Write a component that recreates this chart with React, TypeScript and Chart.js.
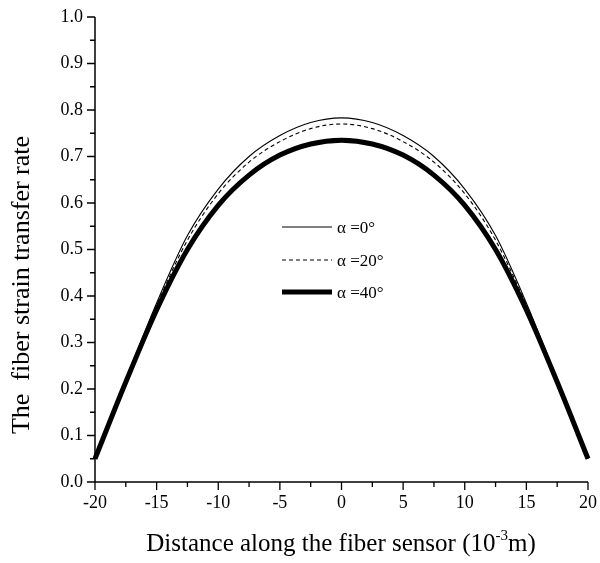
import React, { useEffect, useRef } from "react";
import { Chart, registerables } from "chart.js";

Chart.register(...registerables);

const xPositions = [-20, -17.5, -15, -12.5, -10, -7.5, -5, -2.5, 0, 2.5, 5, 7.5, 10, 12.5, 15, 17.5, 20];
const alpha0 = [0.05, 0.22, 0.385, 0.53, 0.63, 0.70, 0.745, 0.773, 0.783, 0.773, 0.745, 0.70, 0.63, 0.53, 0.385, 0.22, 0.05];
const alpha20 = [0.05, 0.218, 0.38, 0.52, 0.62, 0.688, 0.732, 0.760, 0.770, 0.760, 0.732, 0.688, 0.62, 0.52, 0.38, 0.218, 0.05];
const alpha40 = [0.05, 0.215, 0.37, 0.50, 0.595, 0.660, 0.703, 0.727, 0.735, 0.727, 0.703, 0.660, 0.595, 0.50, 0.37, 0.215, 0.05];
const seriesLabels = ["\u03b1 =0\u00b0", "\u03b1 =20\u00b0", "\u03b1 =40\u00b0"];

const xMajorTicks = [-20, -15, -10, -5, 0, 5, 10, 15, 20];
const xMinorTicks = [-17.5, -12.5, -7.5, -2.5, 2.5, 7.5, 12.5, 17.5];
const yMajorTicks = [0, 0.1, 0.2, 0.3, 0.4, 0.5, 0.6, 0.7, 0.8, 0.9, 1.0];
const yMinorTicks = [0.05, 0.15, 0.25, 0.35, 0.45, 0.55, 0.65, 0.75, 0.85, 0.95];

const yTitle = "The  fiber strain transfer rate";
const xTitleMain = "Distance along the fiber sensor (10";
const xTitleSup = "-3";
const xTitleEnd = "m)";

const FONT = "'Liberation Serif', 'Times New Roman', serif";

const toPoints = (ys: number[]) => xPositions.map((x, i) => ({ x, y: ys[i] }));

const axesPlugin = {
  id: "customAxes",
  afterDraw(chart: any) {
    const ctx = chart.ctx;
    const xs = chart.scales.x;
    const ys = chart.scales.y;
    const x0 = xs.getPixelForValue(-20);
    const x1 = xs.getPixelForValue(20);
    const y0 = ys.getPixelForValue(0);
    const y1 = ys.getPixelForValue(1);
    ctx.save();
    ctx.strokeStyle = "#000";
    ctx.fillStyle = "#000";
    ctx.lineWidth = 1.5;
    ctx.beginPath();
    ctx.moveTo(x0, y1);
    ctx.lineTo(x0, y0);
    ctx.lineTo(x1, y0);
    ctx.stroke();

    ctx.lineWidth = 1.3;
    ctx.beginPath();
    yMajorTicks.forEach((v) => {
      const p = ys.getPixelForValue(v);
      ctx.moveTo(x0, p);
      ctx.lineTo(x0 - 8, p);
    });
    yMinorTicks.forEach((v) => {
      const p = ys.getPixelForValue(v);
      ctx.moveTo(x0, p);
      ctx.lineTo(x0 - 5, p);
    });
    xMajorTicks.forEach((v) => {
      const p = xs.getPixelForValue(v);
      ctx.moveTo(p, y0);
      ctx.lineTo(p, y0 + 8);
    });
    xMinorTicks.forEach((v) => {
      const p = xs.getPixelForValue(v);
      ctx.moveTo(p, y0);
      ctx.lineTo(p, y0 + 5);
    });
    ctx.stroke();

    ctx.font = `18px ${FONT}`;
    ctx.textAlign = "right";
    ctx.textBaseline = "middle";
    yMajorTicks.forEach((v) => {
      ctx.fillText(v.toFixed(1), x0 - 12, ys.getPixelForValue(v));
    });
    ctx.textAlign = "center";
    ctx.textBaseline = "top";
    xMajorTicks.forEach((v) => {
      ctx.fillText(String(v), xs.getPixelForValue(v), y0 + 12);
    });

    // y title
    ctx.save();
    ctx.translate(22, 285);
    ctx.rotate(-Math.PI / 2);
    ctx.textAlign = "center";
    ctx.textBaseline = "middle";
    ctx.font = `26px ${FONT}`;
    ctx.fillText(yTitle, 0, 0);
    ctx.restore();

    // x title with superscript
    const tSize = 25;
    ctx.font = `${tSize}px ${FONT}`;
    const wMain = ctx.measureText(xTitleMain).width;
    const wEnd = ctx.measureText(xTitleEnd).width;
    ctx.font = `${Math.round(tSize * 0.6)}px ${FONT}`;
    const wSup = ctx.measureText(xTitleSup).width;
    const total = wMain + wSup + wEnd;
    let tx = 341 - total / 2;
    const baseY = 551;
    ctx.textAlign = "left";
    ctx.textBaseline = "alphabetic";
    ctx.font = `${tSize}px ${FONT}`;
    ctx.fillText(xTitleMain, tx, baseY);
    tx += wMain;
    ctx.font = `${Math.round(tSize * 0.6)}px ${FONT}`;
    ctx.fillText(xTitleSup, tx, baseY - 11);
    tx += wSup;
    ctx.font = `${tSize}px ${FONT}`;
    ctx.fillText(xTitleEnd, tx, baseY);

    // legend
    const legendRows = [227, 260, 292];
    chart.data.datasets.forEach((ds: any, i: number) => {
      const ly = legendRows[i];
      ctx.save();
      ctx.strokeStyle = "#000";
      ctx.lineWidth = ds.borderWidth;
      ctx.setLineDash(ds.borderDash || []);
      ctx.lineCap = "butt";
      ctx.beginPath();
      ctx.moveTo(282, ly);
      ctx.lineTo(332, ly);
      ctx.stroke();
      ctx.restore();
      ctx.font = `17px ${FONT}`;
      ctx.textAlign = "left";
      ctx.textBaseline = "middle";
      ctx.fillText(ds.label, 337, ly + 2);
    });
    ctx.restore();
  },
};

export default function App() {
  const ref = useRef<HTMLCanvasElement | null>(null);
  useEffect(() => {
    if (!ref.current) return;
    const chart = new Chart(ref.current, {
      type: "line",
      data: {
        datasets: [
          { label: seriesLabels[0], data: toPoints(alpha0), borderColor: "#000", borderWidth: 1.1, pointRadius: 0, cubicInterpolationMode: "monotone", fill: false },
          { label: seriesLabels[1], data: toPoints(alpha20), borderColor: "#000", borderWidth: 1.1, borderDash: [4, 3], pointRadius: 0, cubicInterpolationMode: "monotone", fill: false },
          { label: seriesLabels[2], data: toPoints(alpha40), borderColor: "#000", borderWidth: 5, pointRadius: 0, cubicInterpolationMode: "monotone", fill: false },
        ] as any,
      },
      options: {
        animation: false,
        responsive: true,
        maintainAspectRatio: false,
        clip: false as any,
        layout: { padding: { left: 95, right: 12, top: 17, bottom: 81 } },
        plugins: { legend: { display: false }, tooltip: { enabled: false }, title: { display: false } },
        scales: {
          x: { type: "linear", min: -20, max: 20, display: false },
          y: { type: "linear", min: 0, max: 1, display: false },
        },
      },
      plugins: [axesPlugin],
    });
    return () => chart.destroy();
  }, []);
  return (
    <div style={{ position: "absolute", left: 0, top: 0, width: 600, height: 563, background: "#fff" }}>
      <canvas ref={ref} />
    </div>
  );
}
